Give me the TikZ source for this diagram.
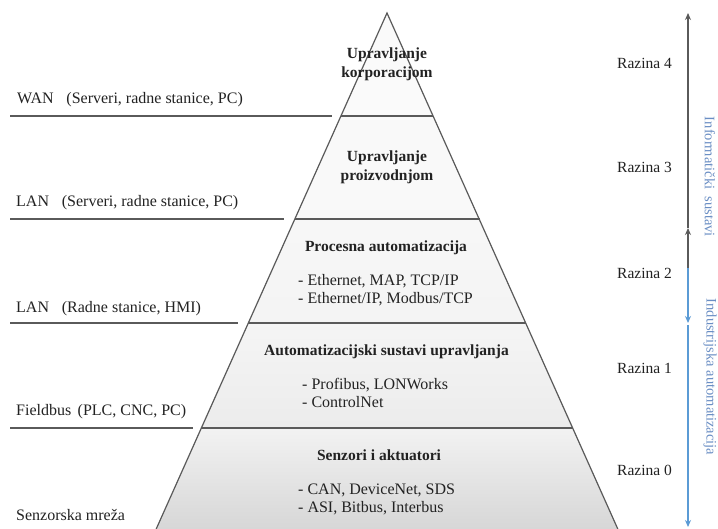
\documentclass[tikz,border=0pt]{standalone}
\usepackage{fontspec}
\setmainfont{Liberation Serif}
\newfontfamily\diagfont{Liberation Serif}
\usetikzlibrary{arrows.meta}
\definecolor{linegray}{HTML}{5A5A5A}
\definecolor{bluearr}{HTML}{5B9BD5}
\definecolor{bluetxt}{HTML}{6A8EC4}
\definecolor{txtgray}{HTML}{222222}
\tikzset{
  pyr/.style={draw=linegray, line width=1.2pt},
  sideline/.style={draw=linegray, line width=1.4pt},
  lbl/.style={inner sep=0pt, anchor=west, text=txtgray, font=\diagfont\fontsize{16}{18}\selectfont},
  ttl/.style={inner sep=0pt, align=center, text=txtgray, font=\diagfont\fontsize{15.5}{19}\selectfont\bfseries},
  itm/.style={inner sep=0pt, anchor=west, align=left, text=txtgray, font=\diagfont\fontsize{16}{18}\selectfont},
  raz/.style={inner sep=0pt, anchor=west, text=txtgray, font=\diagfont\fontsize{15.5}{18}\selectfont},
  vtxt/.style={inner sep=0pt, rotate=-90, text=bluetxt, font=\diagfont\fontsize{14.5}{16}\selectfont},
  grayarrow/.style={draw=linegray, line width=1.1pt, -{Stealth[length=7pt,width=6pt]}},
  bluearrow/.style={draw=bluearr, line width=1.1pt, -{Stealth[length=7pt,width=6pt]}}
}
\begin{document}
\begin{tikzpicture}[x=1pt,y=-1pt]
\useasboundingbox (0,0) rectangle (718,529);
\fill[white] (0,0) rectangle (718,529);
% pyramid corner points
\coordinate (apex) at (387,13);
\coordinate (l1) at (340.8,116); \coordinate (r1) at (433.2,116);
\coordinate (l2) at (294.5,219); \coordinate (r2) at (479.5,219);
\coordinate (l3) at (247.8,323); \coordinate (r3) at (526.2,323);
\coordinate (l4) at (200.7,428); \coordinate (r4) at (573.3,428);
\coordinate (l5) at (155.3,531); \coordinate (r5) at (618.7,531);
% fills
\fill[gray!4] (apex) -- (l1) -- (r1) -- cycle;
\fill[gray!5] (l1) -- (r1) -- (r2) -- (l2) -- cycle;
\shade[top color=gray!6, bottom color=gray!9] (l2) -- (r2) -- (r3) -- (l3) -- cycle;
\shade[top color=gray!8, bottom color=gray!15] (l3) -- (r3) -- (r4) -- (l4) -- cycle;
\shade[top color=gray!10, bottom color=gray!32] (l4) -- (r4) -- (r5) -- (l5) -- cycle;
% outlines
\draw[pyr] (l5) -- (apex) -- (r5);
\draw[pyr] (l1) -- (r1);
\draw[pyr] (l2) -- (r2);
\draw[pyr] (l3) -- (r3);
\draw[pyr] (l4) -- (r4);
% left lines
\coordinate (a0) at (10,116); \coordinate (a1) at (332,116);
\coordinate (b0) at (10,219); \coordinate (b1) at (284,219);
\coordinate (c0) at (10,323); \coordinate (c1) at (238,323);
\coordinate (d0) at (10,428); \coordinate (d1) at (193,428);
\draw[sideline] (a0) -- (a1);
\draw[sideline] (b0) -- (b1);
\draw[sideline] (c0) -- (c1);
\draw[sideline] (d0) -- (d1);
% left labels
\node[lbl] (wan) at (17,100) {WAN\hspace{0.8em}(Serveri, radne stanice, PC)};
\node[lbl] (lan1) at (16,203) {LAN\hspace{0.8em}(Serveri, radne stanice, PC)};
\node[lbl] (lan2) at (16,309) {LAN\hspace{0.8em}(Radne stanice, HMI)};
\node[lbl] (fb) at (16,412) {Fieldbus\hspace{0.4em}(PLC, CNC, PC)};
\node[lbl] (sm) at (16,515) {Senzorska mreža};
% pyramid titles
\node[ttl] (t4) at (387,64) {Upravljanje\\korporacijom};
\node[ttl] (t3) at (387,167) {Upravljanje\\proizvodnjom};
\node[ttl] (t2) at (386,248) {Procesna automatizacija};
\node[itm] (i2) at (298,290.5) {- Ethernet, MAP, TCP/IP\\- Ethernet/IP, Modbus/TCP};
\node[ttl] (t1) at (386.5,352) {Automatizacijski sustavi upravljanja};
\node[itm] (i1) at (302,393) {- Profibus, LONWorks\\- ControlNet};
\node[ttl] (t0) at (379,455) {Senzori i aktuatori};
\node[itm] (i0) at (298,499) {- CAN, DeviceNet, SDS\\- ASI, Bitbus, Interbus};
% level labels
\node[raz] (z4) at (617,63) {Razina 4};
\node[raz] (z3) at (617,167) {Razina 3};
\node[raz] (z2) at (617,273) {Razina 2};
\node[raz] (z1) at (617,368) {Razina 1};
\node[raz] (z0) at (617,470) {Razina 0};
% right arrows
\coordinate (p0) at (688,13);
\coordinate (p1) at (688,228);
\coordinate (p2) at (688,268);
\coordinate (p3) at (688,323);
\coordinate (p4) at (688,325);
\coordinate (p5) at (688,527);
\draw[grayarrow] (p1) -- (p0);
\draw[grayarrow] (p2) -- (p1);
\draw[bluearrow] (p2) -- (p3);
\draw[bluearrow] (p4) -- (p5);
\node[vtxt] (info) at (710,177) {Informatički\hspace{0.5em}sustavi};
\node[vtxt] (ind) at (710,377) {Industrijska automatizacija};
\end{tikzpicture}
\end{document}
